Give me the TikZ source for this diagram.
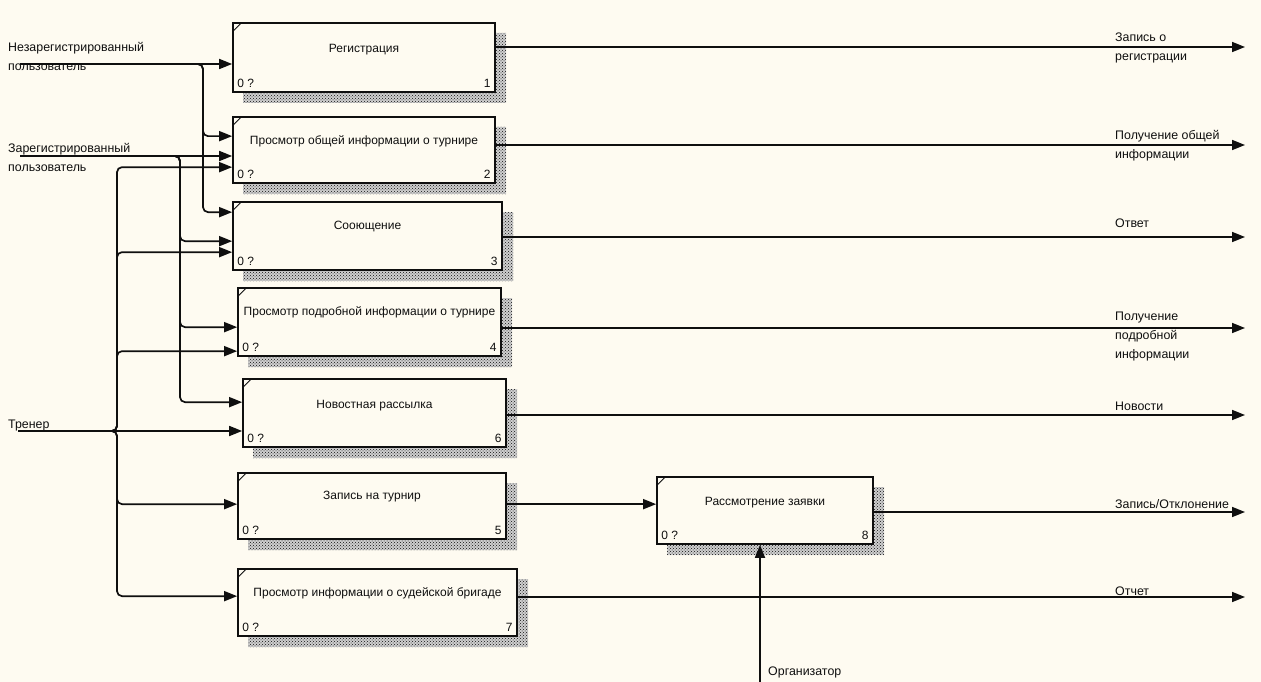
\documentclass[tikz,border=0pt]{standalone}
\usepackage{fontspec}
\setmainfont{Liberation Sans}
\usetikzlibrary{arrows.meta,patterns,fit}
\definecolor{paper}{RGB}{254,251,241}
\definecolor{ink}{RGB}{15,15,15}
\tikzset{
  flow/.style={draw=ink, line width=1.7pt, -{Triangle[length=13pt,width=10pt]}},
  rc/.style={rounded corners=5pt},
  funcbox/.style={draw=ink, line width=1.7pt, fill=paper, inner sep=0pt},
  shadowbase/.style={fill=ink!20},
  shadowfill/.style={pattern=crosshatch dots, pattern color=ink},
  ttl/.style={font=\fontsize{12}{18}\selectfont, text=ink, inner sep=0pt},
  tag/.style={font=\fontsize{12}{14}\selectfont, text=ink, inner sep=0pt},
  lbl/.style={font=\fontsize{12.4}{19}\selectfont, text=ink, align=left, inner sep=0pt},
}
% IDEF0 activity box: name, left, top, right, bottom, title offset, title, number
\newcommand\idefbox[8]{%
  \path[shadowbase] (#4,#3+10) -- (#4+11,#3+10) -- (#4+11,#5+11) -- (#2+10,#5+11)
      -- (#2+10,#5) -- (#4,#5) -- cycle;
  \path[shadowfill] (#4,#3+10) -- (#4+11,#3+10) -- (#4+11,#5+11) -- (#2+10,#5+11)
      -- (#2+10,#5) -- (#4,#5) -- cycle;
  \node[funcbox, fit={(#2,#3) (#4,#5)}] (#1) {};
  \draw[draw=ink, line width=0.9pt] ([xshift=1pt,yshift=-9pt]#1.north west)
      -- ([xshift=9pt,yshift=-1pt]#1.north west);
  \node[ttl] (#1t) at ([yshift=-#6pt]#1.north) {#7};
  \node[tag, anchor=base west] (#1z) at ([xshift=5pt,yshift=5pt]#1.south west) {0 ?};
  \node[tag, anchor=base east] (#1n) at ([xshift=-5pt,yshift=5pt]#1.south east) {#8};
}
\begin{document}
\begin{tikzpicture}[x=1pt,y=-1pt]
  \fill[paper] (0,0) rectangle (1261,682);
  \useasboundingbox (0,0) rectangle (1261,682);

  % activity boxes
  \idefbox{b1}{233}{23}{495}{92}{27}{Регистрация}{1}
  \idefbox{b2}{233}{117}{495}{183}{25}{Просмотр общей информации о турнире}{2}
  \idefbox{b3}{233}{202}{502}{270}{25}{Сооющение}{3}
  \idefbox{b4}{238}{288}{501}{356}{25}{Просмотр подробной информации о турнире}{4}
  \idefbox{b5}{243}{379}{506}{447}{27}{Новостная рассылка}{6}
  \idefbox{b6}{238}{473}{506}{539}{24}{Запись на турнир}{5}
  \idefbox{b7}{238}{569}{517}{636}{25}{Просмотр информации о судейской бригаде}{7}
  \idefbox{b8}{657}{477}{873}{544}{26}{Рассмотрение заявки}{8}

  % boundary arrow ends
  \coordinate (srcN) at (20,64);
  \coordinate (srcZ) at (20,156);
  \coordinate (srcT) at (18,431);
  \coordinate (srcO) at (760,682);
  \coordinate (jN) at (203,64);
  \coordinate (jZ) at (180,156);
  \coordinate (jT) at (117,431);
  \coordinate (o1) at (1245,47);
  \coordinate (o2) at (1245,145);
  \coordinate (o3) at (1245,237);
  \coordinate (o4) at (1245,328);
  \coordinate (o5) at (1245,415);
  \coordinate (o8) at (1245,512);
  \coordinate (o7) at (1245,597);

  % input ports on box sides
  \coordinate (p2a) at ([yshift=-20pt]b2.north west);
  \coordinate (p2c) at ([yshift=-51pt]b2.north west);
  \coordinate (p3a) at ([yshift=-11pt]b3.north west);
  \coordinate (p3b) at ([yshift=-40pt]b3.north west);
  \coordinate (p3c) at ([yshift=-51pt]b3.north west);
  \coordinate (p4a) at ([yshift=-40pt]b4.north west);
  \coordinate (p4b) at ([yshift=-64pt]b4.north west);
  \coordinate (p5a) at ([yshift=-24pt]b5.north west);
  \coordinate (p6) at ([yshift=-32pt]b6.north west);
  \coordinate (p7) at ([yshift=-28pt]b7.north west);
  \coordinate (p8) at ([yshift=-28pt]b8.north west);

  % left labels
  \node[lbl, anchor=west] (lN) at (8,56.5) {Незарегистрированный\\пользователь};
  \node[lbl, anchor=west] (lZ) at (8,157) {Зарегистрированный\\пользователь};
  \node[lbl, anchor=base west] (lT) at (8,428) {Тренер};
  \node[lbl, anchor=base west] (lO) at (768,675) {Организатор};

  % unregistered user
  \draw[flow] (srcN) -- (b1.west |- srcN);
  \draw[flow, rc] (srcN) -- (jN) |- (p2a);
  \draw[flow, rc] (srcN) -- (jN) |- (p3a);

  % registered user
  \draw[flow] (srcZ) -- (b2.west |- srcZ);
  \draw[flow, rc] (srcZ) -- (jZ) |- (p3b);
  \draw[flow, rc] (srcZ) -- (jZ) |- (p4a);
  \draw[flow, rc] (srcZ) -- (jZ) |- (p5a);

  % coach
  \draw[flow] (srcT) -- (b5.west |- srcT);
  \draw[flow, rc] (srcT) -- (jT) |- (p2c);
  \draw[flow, rc] (srcT) -- (jT) |- (p3c);
  \draw[flow, rc] (srcT) -- (jT) |- (p4b);
  \draw[flow, rc] (srcT) -- (jT) |- (p6);
  \draw[flow, rc] (srcT) -- (jT) |- (p7);

  % application review
  \draw[flow] (b6.east |- p8) -- (p8);
  \draw[flow] (srcO) -- (b8.south -| srcO);

  % outputs
  \draw[flow] (b1.east |- o1) -- (o1);
  \draw[flow] (b2.east |- o2) -- (o2);
  \draw[flow] (b3.east |- o3) -- (o3);
  \draw[flow] (b4.east |- o4) -- (o4);
  \draw[flow] (b5.east |- o5) -- (o5);
  \draw[flow] (b8.east |- o8) -- (o8);
  \draw[flow] (b7.east |- o7) -- (o7);

  % output labels
  \node[lbl, anchor=west] (r1) at (1115,47.5) {Запись о\\регистрации};
  \node[lbl, anchor=west] (r2) at (1115,146) {Получение общей\\информации};
  \node[lbl, anchor=base west] (r3) at (1115,227) {Ответ};
  \node[lbl, anchor=west] (r4) at (1115,337) {Получение\\подробной\\информации};
  \node[lbl, anchor=base west] (r5) at (1115,410) {Новости};
  \node[lbl, anchor=base west] (r8) at (1115,508) {Запись/Отклонение};
  \node[lbl, anchor=base west] (r7) at (1115,595) {Отчет};
\end{tikzpicture}
\end{document}
